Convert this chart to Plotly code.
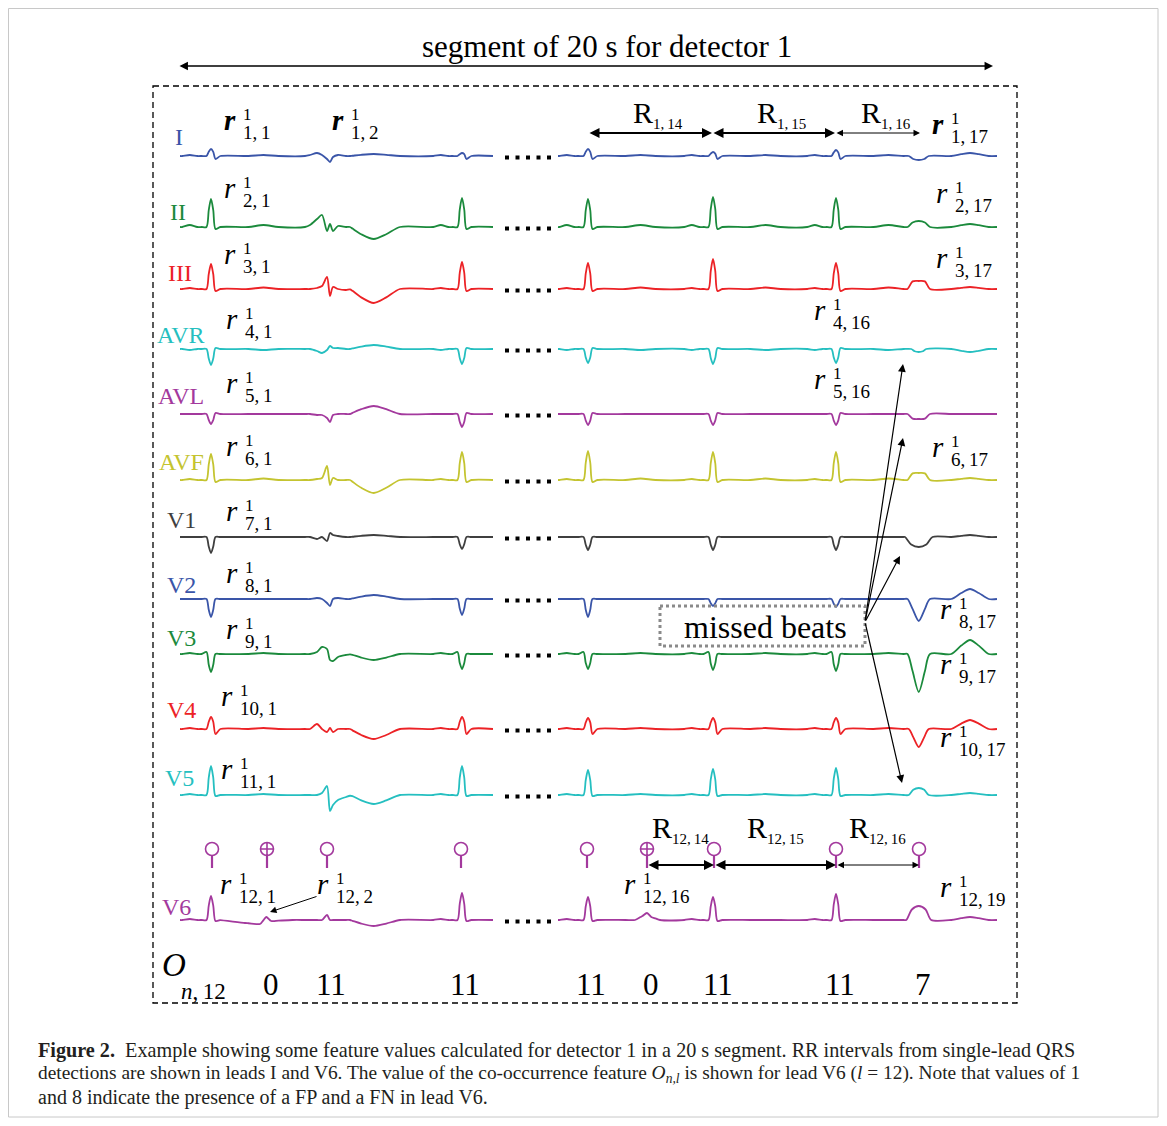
import numpy as np
import plotly.graph_objects as go

# The page body has an 8 px margin: the figure is drawn 8 px in from the top-left,
# so layout coordinates below are given in reference-picture pixels and shifted by OFF.
OFF = 8
W, H = 1151, 1110
SERIF = "Liberation Serif"
THIN = "\u2009"

# ---------------- data ----------------
LEADS = ["I", "II", "III", "AVR", "AVL", "AVF", "V1", "V2", "V3", "V4", "V5", "V6"]
LEAD_COLORS = ["#3a55a8", "#1b8a3c", "#ec2226", "#25bfc0", "#a3399d", "#c4c430",
               "#3f3f3f", "#3a55a8", "#1b8a3c", "#ec2226", "#25bfc0", "#a3399d"]

# time windows shown (s): left part and right part of the 20 s segment
SEG_LEFT = (0.0, 2.504)
SEG_RIGHT = (16.424, 19.936)

# normal beats (s) and their R amplitudes per lead (display units, up = +)
BEAT_T = [0.248, 2.256, 16.664, 17.664, 18.648]
R_AMP = [
    [7, 3, 7, 4, 6],            # I
    [28, 29, 28, 30, 29],       # II
    [25, 27, 26, 30, 26],       # III
    [-16, -15, -14, -15, -14],  # AVR
    [-10, -13, -11, -11, -11],  # AVL
    [26, 28, 29, 28, 28],       # AVF
    [-16, -12, -13, -13, -13],  # V1
    [-18, -16, -18, -7, -8],    # V2
    [-18, -15, -15, -16, -17],  # V3
    [12, 12, 11, 11, 11],       # V4
    [29, 29, 25, 26, 27],       # V5
    [24, 27, 23, 23, 26],       # V6
]
Q_AMP = [0, 0, 0, 0, 0, 0, 0, 0, 2, 0, 0, 0]
S_AMP = [-3, -2, -2, 1, 1, -2, 0, 0, 0, -5, -1, -1]
P_AMP = [1, 2, 1, -1, 0, 1, 0, 0, 1, 1, 1, 1]
T_AMP = [1, 2, 1.5, -1, 0, 1.5, 0, 0, 1, 1, 1, 0]

# ectopic complex in the left part
ECT_T = [1.00, 1.04, 1.096, 1.136, 1.176, 1.200, 1.224, 1.264, 1.328, 1.38]
ECT_AMP = [
    [0, 1, 3, 1, -3, -6, -1, 1, 0, 0],      # I
    [0, 2, 8, 12, -4, 3, -4, 1, 0, 0],      # II
    [0, 0, 1, 3, 12, -7, 2, 0, -1, 0],      # III
    [0, 0, -2, -4, -1, 3, 1, 1, 0, 0],      # AVR
    [0, 0, -1, -1, -4, -8, -1, 0, 0, 0],    # AVL
    [0, 0, 1, 2, 14, -5, 2, 0, 0, 0],       # AVF
    [0, 0, -2, 0, -4, 4, 2, 1, 0, 0],       # V1
    [0, 0, 1, 0, -4, -7, 0, 1, 0, 0],       # V2
    [0, 0, 2, 7, 5, -6, -7, -3, -1, 0],     # V3
    [0, 0, 5, 0, -3, 1, -3, 0, 0, 0],       # V4
    [0, 0, 0, 2, 9, -16, -10, -5, -2, 0],   # V5
    [0, 0, 0, 0, 5, 0, 0, 0, 0, 0],         # V6
]
ECT_TW_T = [1.36, 1.45, 1.55, 1.65, 1.76]
ECT_TW_SHAPE = [0, 0.6, 1, 0.6, 0]
ECT_TW_AMP = [2, -12, -14, 4, 8, -13, 2, 4, -6, -10, -9, -6]

# last (abnormal) complex in the right part
FIN_T = 19.31
FIN_AMP = [-4, 6, 8, -3, -5, 7, -10, -22, -38, -18, 7, 14]
FIN_HALF = [0.08, 0.09, 0.09, 0.06, 0.09, 0.09, 0.11, 0.09, 0.09, 0.08, 0.08, 0.10]
FIN_K = [0.75, 0.75, 0.95, 0.75, 0.92, 0.95, 0.75, 0.45, 0.45, 0.45, 0.75, 0.75]
LATE_T = 19.72
LATE_AMP = [3, 3, 2, -3, 0, 2, 2, 10, 14, 9, 2, 3]

# small false-positive bumps in V6
V6_FP_T = [0.32, 0.52, 0.64, 0.69, 0.73, 0.90, 17.04, 17.10, 17.136, 17.17, 17.24]
V6_FP_AMP = [0, -3, -4, 3, -1, 0, 0, 4, 7, 3, 0]

# V6 detections, FP flags and co-occurrence values
V6_DET_T = [0.256, 0.696, 1.176, 2.248, 16.656, 17.136, 17.672, 18.648, 19.312]
V6_DET_FP = [0, 1, 0, 0, 0, 1, 0, 0, 0]
O_VALUES = [None, 0, 11, 11, 11, 0, 11, 11, 7]

# RR intervals drawn
RR_I_T = [16.664, 17.656, 18.640, 19.32]
RR_I_LABELS = ["1,14", "1,15", "1,16"]
RR_V6_T = [17.136, 17.672, 18.648, 19.312]
RR_V6_LABELS = ["12,14", "12,15", "12,16"]
RR_BOLD = [True, True, False]

# r labels: (x, y, superscript, subscript, bold)
R_LABELS = [
    (230, 123, "1", "1,1", True), (338, 123, "1", "1,2", True), (938, 127, "1", "1,17", True),
    (230, 191, "1", "2,1", False), (942, 196, "1", "2,17", False),
    (230, 257, "1", "3,1", False), (942, 261, "1", "3,17", False),
    (232, 322, "1", "4,1", False), (820, 313, "1", "4,16", False),
    (232, 386, "1", "5,1", False), (820, 382, "1", "5,16", False),
    (232, 449, "1", "6,1", False), (938, 450, "1", "6,17", False),
    (232, 514, "1", "7,1", False),
    (232, 576, "1", "8,1", False), (946, 612, "1", "8,17", False),
    (232, 632, "1", "9,1", False), (946, 667, "1", "9,17", False),
    (227, 699, "1", "10,1", False), (946, 740, "1", "10,17", False),
    (227, 772, "1", "11,1", False),
    (226, 887, "1", "12,1", False), (323, 887, "1", "12,2", False),
    (630, 887, "1", "12,16", False), (946, 890, "1", "12,19", False),
]

# ---------------- layout constants ----------------
BASELINE_Y = [156, 227, 289, 349, 414, 480, 537, 599, 654, 729, 795, 920]
LABEL_POS = [(179, 137), (178, 212), (180, 273), (181, 335), (181, 396), (181, 462),
             (181, 520), (181, 585), (181, 638), (181, 710), (179, 778), (176, 907)]
PX_PER_S = 125.0
LEFT_PX = (180, 497)
RIGHT_PX = (555, 1000)
BEAT_DT = [-0.075, -0.036, -0.018, 0.0, 0.018, 0.036, 0.075]


def lead_features(i):
    feats = []
    for b, tb in enumerate(BEAT_T):
        r = R_AMP[i][b]
        feats.append(([tb + d for d in BEAT_DT], [0, Q_AMP[i], 0.6 * r, r, 0.6 * r, S_AMP[i], 0]))
        feats.append(([tb - 0.23, tb - 0.17, tb - 0.11], [0, P_AMP[i], 0]))
        feats.append(([tb + 0.30, tb + 0.42, tb + 0.54], [0, T_AMP[i], 0]))
    feats.append((ECT_T, ECT_AMP[i]))
    feats.append((ECT_TW_T, [s * ECT_TW_AMP[i] for s in ECT_TW_SHAPE]))
    h = FIN_HALF[i]
    k = FIN_K[i]
    feats.append(([FIN_T - h, FIN_T - 0.55 * h, FIN_T, FIN_T + 0.55 * h, FIN_T + h],
                  [0, k * FIN_AMP[i], FIN_AMP[i], k * FIN_AMP[i], 0]))
    feats.append(([LATE_T - 0.15, LATE_T - 0.07, LATE_T, LATE_T + 0.07, LATE_T + 0.15],
                  [0, 0.6 * LATE_AMP[i], LATE_AMP[i], 0.6 * LATE_AMP[i], 0]))
    if LEADS[i] == "V6":
        feats.append((V6_FP_T, V6_FP_AMP))
    return feats


def signal(i, seg):
    feats = lead_features(i)
    ts = {seg[0], seg[1]}
    for ft, _ in feats:
        for t in ft:
            if seg[0] < t < seg[1]:
                ts.add(t)
    ts = np.array(sorted(ts))
    amp = np.zeros_like(ts)
    for ft, fa in feats:
        amp += np.interp(ts, ft, fa, left=0, right=0)
    return ts, BASELINE_Y[i] - amp


fig = go.Figure()

for i, lead in enumerate(LEADS):
    for seg, xa, ya in [(SEG_LEFT, "x", "y"), (SEG_RIGHT, "x2", "y2")]:
        t, y = signal(i, seg)
        fig.add_trace(go.Scatter(x=t, y=y, mode="lines", xaxis=xa, yaxis=ya,
                                 line=dict(color=LEAD_COLORS[i], width=1.8, shape="spline", smoothing=0.8),
                                 hoverinfo="skip", showlegend=False))

PURPLE = LEAD_COLORS[11]
# V6 lollipops
for seg, xa, ya in [(SEG_LEFT, "x", "y"), (SEG_RIGHT, "x2", "y2")]:
    idx = [j for j, t in enumerate(V6_DET_T) if seg[0] <= t <= seg[1]]
    sx, sy = [], []
    for j in idx:
        sx += [V6_DET_T[j], V6_DET_T[j], None]
        sy += [855.5, 868, None]
    fig.add_trace(go.Scatter(x=sx, y=sy, mode="lines", xaxis=xa, yaxis=ya,
                             line=dict(color=PURPLE, width=2.2), hoverinfo="skip", showlegend=False))
    fig.add_trace(go.Scatter(x=[V6_DET_T[j] for j in idx], y=[849] * len(idx), mode="markers",
                             xaxis=xa, yaxis=ya,
                             marker=dict(symbol=["circle-cross-open" if V6_DET_FP[j] else "circle-open" for j in idx],
                                         size=13, color=PURPLE, line=dict(width=1.6, color=PURPLE)),
                             hoverinfo="skip", showlegend=False))

annotations = []
shapes = []


def px(x):
    return (x - OFF) / W


def text(x, y, s, size, color="black", xanchor="center", yanchor="middle", xref="paper", yref="y", **kw):
    annotations.append(dict(x=x if xref != "paper" else px(x), y=y, xref=xref, yref=yref, text=s,
                            showarrow=False, xanchor=xanchor, yanchor=yanchor,
                            font=dict(family=SERIF, size=size, color=color), **kw))


def arrow(x0, y0, x1, y1, width=1.2, both=False, xref="paper", yref="y"):
    asz = 1.0 if width > 1.5 else 1.3
    common = dict(text="", showarrow=True, arrowhead=2, arrowsize=asz, arrowwidth=width,
                  arrowcolor="black", arrowside="end+start" if both else "end",
                  startarrowhead=2, startarrowsize=asz, standoff=0, startstandoff=0)
    if xref == "paper":
        annotations.append(dict(x=px(x1), y=y1, xref="paper", yref=yref, ax=x0 - x1, ay=y0 - y1,
                                axref="pixel", ayref="pixel", **common))
    else:
        annotations.append(dict(x=x1, y=y1, xref=xref, yref=yref, ax=x0, ay=y0,
                                axref=xref, ayref=yref, **common))


# outer border and dashed box
shapes.append(dict(type="rect", xref="paper", yref="y", x0=px(8.5), x1=px(1158), y0=8.5, y1=1117,
                   line=dict(color="#c8c8c8", width=1)))
shapes.append(dict(type="rect", xref="paper", yref="y", x0=px(153), x1=px(1017), y0=86, y1=1003,
                   line=dict(color="black", width=1.3, dash="6px,4px")))

# title and arrow
text(607, 46, "segment of 20 s for detector 1", 31)
arrow(178, 66, 993, 66, width=1.3, both=True)

# lead labels
for i, lead in enumerate(LEADS):
    text(LABEL_POS[i][0], LABEL_POS[i][1], lead, 24, color=LEAD_COLORS[i])

# gap dots
for i in range(len(LEADS)):
    for k in range(5):
        cx = 507 + 10.5 * k
        cy = BASELINE_Y[i] + 1.5
        shapes.append(dict(type="rect", xref="paper", yref="y", x0=px(cx - 2), x1=px(cx + 2),
                           y0=cy - 2, y1=cy + 2, fillcolor="black", line=dict(width=0)))

# r labels
for (x, y, sup, sub, bold) in R_LABELS:
    rt = "<b><i>r</i></b>" if bold else "<i>r</i>"
    text(x, y - 3, rt, 29)
    text(x + 11, y - 9, sup, 17, xanchor="left")
    text(x + 11, y + 9, sub.replace(",", "," + THIN), 19, xanchor="left")


def rr_label(sub):
    return 'R<sub><span style="font-size:15px">%s</span></sub>' % sub.replace(",", "," + THIN)


# RR intervals lead I
for k in range(3):
    w = 2.0 if RR_BOLD[k] else 1.0
    arrow(RR_I_T[k], 133, RR_I_T[k + 1], 133, width=w, both=True, xref="x2", yref="y2")
    mid = (RR_I_T[k] + RR_I_T[k + 1]) / 2
    text(mid, 114, rr_label(RR_I_LABELS[k]), 30, xref="x2", yref="y2", xshift=8)
# RR intervals V6
for k in range(3):
    w = 2.0 if RR_BOLD[k] else 1.0
    arrow(RR_V6_T[k], 865, RR_V6_T[k + 1], 865, width=w, both=True, xref="x2", yref="y2")
    mid = (RR_V6_T[k] + RR_V6_T[k + 1]) / 2
    text(mid, 829, rr_label(RR_V6_LABELS[k]), 30, xref="x2", yref="y2", xshift=0)

# O values
for j, v in enumerate(O_VALUES):
    if v is None:
        continue
    t = V6_DET_T[j]
    xa = "x" if t <= SEG_LEFT[1] else "x2"
    text(t, 984, str(v), 31, xref=xa, yref="y", xshift=4)
text(174, 965, "<i>O</i>", 33)
text(179, 991, "<i>n</i>," + THIN + "12", 23, xanchor="left")

# missed beats box and arrows
shapes.append(dict(type="rect", xref="paper", yref="y", x0=px(660), x1=px(865), y0=606, y1=646,
                   line=dict(color="#8a8a8a", width=3, dash="3px,3px")))
text(765, 627, "missed beats", 32)
for (hx, hy) in [(903, 364), (903, 438), (900, 556), (902, 783)]:
    arrow(865, 622, hx, hy, width=1.2)

# r_{12,2} arrow
arrow(318, 896, 270, 912, width=1.0)

# caption
CAP = [
    "<b>Figure 2.</b>  Example showing some feature values calculated for detector 1 in a 20 s segment. RR intervals from single-lead QRS",
    "detections are shown in leads I and V6. The value of the co-occurrence feature <i>O<sub>n,l</sub></i> is shown for lead V6 (<i>l</i> = 12). Note that values of 1",
    "and 8 indicate the presence of a FP and a FN in lead V6.",
]
CAP_SIZES = [20.2, 19.4, 20]
for k, line in enumerate(CAP):
    annotations.append(dict(x=px(36), y=1050 + 23.5 * k, xref="paper", yref="y", text=line, showarrow=False,
                            xanchor="left", yanchor="middle",
                            font=dict(family=SERIF, size=CAP_SIZES[k], color="#231f20")))

ax_common = dict(visible=False, showgrid=False, zeroline=False, fixedrange=True)
fig.update_layout(
    width=W, height=H, margin=dict(l=0, r=0, t=0, b=0),
    paper_bgcolor="white", plot_bgcolor="white", showlegend=False,
    xaxis=dict(domain=[px(LEFT_PX[0]), px(LEFT_PX[1])],
               range=[0.0, (LEFT_PX[1] - LEFT_PX[0]) / PX_PER_S], anchor="y", **ax_common),
    xaxis2=dict(domain=[px(RIGHT_PX[0]), px(RIGHT_PX[1])],
                range=[16.4, 16.4 + (RIGHT_PX[1] - RIGHT_PX[0]) / PX_PER_S], anchor="y2", **ax_common),
    yaxis=dict(domain=[0, 1], range=[OFF + H, OFF], anchor="x", **ax_common),
    yaxis2=dict(domain=[0, 1], range=[OFF + H, OFF], anchor="x2", **ax_common),
    annotations=annotations, shapes=shapes,
)

fig.write_html("out.html")
